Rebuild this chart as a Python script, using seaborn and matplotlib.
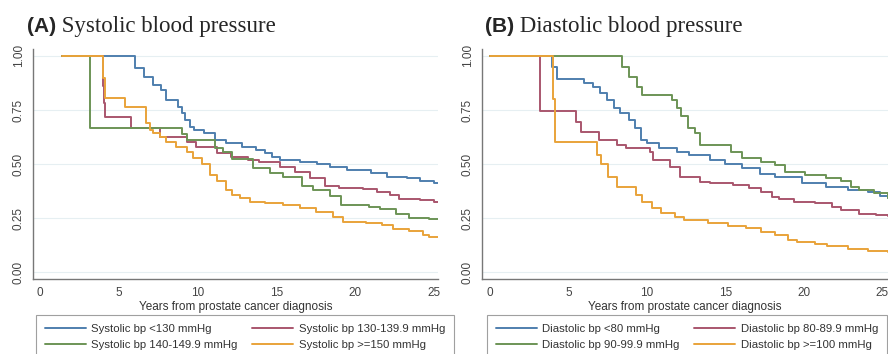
import matplotlib
matplotlib.use('Agg')
import matplotlib.pyplot as plt
import seaborn as sns
import pandas as pd
from matplotlib.lines import Line2D

# Kaplan-Meier style step data (years, survival)
sys_labels = ['Systolic bp <130 mmHg', 'Systolic bp 130-139.9 mmHg',
              'Systolic bp 140-149.9 mmHg', 'Systolic bp >=150 mmHg']
sys_lt130_t = [1.4, 6.0, 6.6, 7.2, 7.7, 8.0, 8.75, 9.0, 9.2, 9.5, 9.8, 10.4, 11.1, 11.8,
               12.8, 13.7, 14.3, 14.7, 15.2, 16.5, 17.6, 18.4, 19.5, 21.0, 22.0, 23.3,
               24.1, 25.0, 25.3]
sys_lt130_s = [1.0, 0.946, 0.904, 0.866, 0.843, 0.796, 0.765, 0.735, 0.704, 0.673, 0.657,
               0.642, 0.611, 0.596, 0.58, 0.565, 0.549, 0.534, 0.52, 0.511, 0.50, 0.488,
               0.47, 0.457, 0.44, 0.435, 0.42, 0.41, 0.41]
sys_130_t = [1.4, 4.0, 4.05, 4.15, 5.8, 7.6, 9.3, 9.9, 11.2, 12.1, 13.2, 13.9, 15.2, 16.2,
             17.1, 18.1, 19.0, 20.5, 21.4, 22.2, 22.8, 24.1, 25.0, 25.3]
sys_130_s = [1.0, 0.86, 0.78, 0.719, 0.666, 0.626, 0.60, 0.578, 0.549, 0.534, 0.518, 0.51,
             0.488, 0.465, 0.435, 0.398, 0.39, 0.383, 0.372, 0.358, 0.34, 0.335, 0.325, 0.325]
sys_140_t = [1.4, 3.16, 9.0, 9.3, 11.1, 11.6, 12.2, 13.5, 14.6, 15.4, 16.6, 17.3, 18.4,
             19.1, 20.9, 21.6, 22.6, 23.4, 24.7, 25.3]
sys_140_s = [1.0, 0.667, 0.637, 0.611, 0.574, 0.556, 0.525, 0.48, 0.46, 0.44, 0.40, 0.38,
             0.35, 0.31, 0.30, 0.29, 0.27, 0.25, 0.245, 0.245]
sys_150_t = [1.4, 4.0, 4.1, 5.4, 6.7, 6.75, 6.96, 7.17, 7.6, 8.0, 8.65, 9.3, 9.7, 10.3,
             10.8, 11.2, 11.8, 12.2, 12.7, 13.3, 14.3, 15.4, 16.5, 17.5, 18.6, 19.2, 20.7,
             21.7, 22.4, 23.4, 24.3, 24.7, 25.3]
sys_150_s = [1.0, 0.90, 0.804, 0.765, 0.72, 0.69, 0.657, 0.642, 0.627, 0.60, 0.58, 0.556,
             0.526, 0.50, 0.45, 0.42, 0.38, 0.356, 0.341, 0.326, 0.318, 0.31, 0.295, 0.28,
             0.256, 0.233, 0.228, 0.218, 0.198, 0.188, 0.172, 0.164, 0.164]

dia_labels = ['Diastolic bp <80 mmHg', 'Diastolic bp 80-89.9 mmHg',
              'Diastolic bp 90-99.9 mmHg', 'Diastolic bp >=100 mmHg']
dia_lt80_t = [0.0, 3.95, 4.3, 6.0, 6.6, 7.0, 7.45, 7.9, 8.3, 8.85, 9.25, 9.6, 10.0, 10.8,
              11.9, 12.7, 14.0, 15.0, 16.1, 17.2, 18.2, 19.9, 21.4, 22.8, 24.1, 24.9, 25.4]
dia_lt80_s = [1.0, 0.95, 0.893, 0.873, 0.858, 0.827, 0.796, 0.76, 0.735, 0.704, 0.666,
              0.611, 0.596, 0.573, 0.557, 0.542, 0.518, 0.50, 0.48, 0.455, 0.44, 0.41,
              0.395, 0.38, 0.372, 0.352, 0.345]
dia_80_t = [0.0, 3.2, 5.5, 5.8, 6.95, 8.1, 8.7, 10.2, 10.4, 11.5, 12.1, 13.4, 14.0, 15.5,
            16.5, 17.3, 18.0, 18.4, 19.4, 20.7, 21.8, 22.4, 23.5, 24.6, 25.4]
dia_80_s = [1.0, 0.745, 0.696, 0.65, 0.611, 0.588, 0.573, 0.557, 0.52, 0.488, 0.44, 0.418,
            0.41, 0.403, 0.388, 0.372, 0.349, 0.34, 0.326, 0.318, 0.302, 0.287, 0.271,
            0.264, 0.26]
dia_90_t = [0.0, 8.4, 8.85, 9.4, 9.7, 11.6, 11.9, 12.2, 12.6, 13.1, 13.4, 15.4, 16.1, 17.3,
            18.2, 18.8, 20.1, 21.4, 22.4, 23.0, 23.5, 24.5, 25.4]
dia_90_s = [1.0, 0.95, 0.904, 0.858, 0.82, 0.796, 0.76, 0.72, 0.666, 0.642, 0.588, 0.557,
            0.526, 0.511, 0.495, 0.465, 0.45, 0.434, 0.42, 0.395, 0.38, 0.364, 0.345]
dia_100_t = [0.0, 4.0, 4.15, 6.8, 7.1, 7.5, 8.1, 9.3, 9.7, 10.3, 10.9, 11.8, 12.4, 13.9,
             15.2, 16.3, 17.3, 18.2, 19.0, 19.6, 20.7, 21.5, 22.8, 24.1, 25.4]
dia_100_s = [1.0, 0.80, 0.603, 0.54, 0.50, 0.44, 0.395, 0.356, 0.326, 0.295, 0.272, 0.256,
             0.241, 0.228, 0.213, 0.202, 0.187, 0.172, 0.148, 0.14, 0.13, 0.12, 0.108,
             0.097, 0.095]

colors = ['#4f7fae', '#a9566e', '#6c9456', '#e9a33a']
yticks = [0.0, 0.25, 0.5, 0.75, 1.0]
xticks = [0, 5, 10, 15, 20, 25]


def to_frame(series, labels):
    rows = []
    for (t, s), lab in zip(series, labels):
        for ti, si in zip(t, s):
            rows.append({'years': ti, 'surv': si, 'group': lab})
    return pd.DataFrame(rows)


sys_df = to_frame([(sys_lt130_t, sys_lt130_s), (sys_130_t, sys_130_s),
                   (sys_140_t, sys_140_s), (sys_150_t, sys_150_s)], sys_labels)
dia_df = to_frame([(dia_lt80_t, dia_lt80_s), (dia_80_t, dia_80_s),
                   (dia_90_t, dia_90_s), (dia_100_t, dia_100_s)], dia_labels)

sns.set_style('white')
plt.rcParams['font.family'] = ['Liberation Sans', 'DejaVu Sans']

W, H = 888, 354
fig = plt.figure(figsize=(W / 100, H / 100), dpi=100)
ax_a = fig.add_axes([33 / W, 1 - 279 / H, (438 - 33) / W, 230 / H])
ax_b = fig.add_axes([482 / W, 1 - 279 / H, (888 - 482) / W, 230 / H])

panels = [
    (ax_a, sys_df, sys_labels, (-0.44, 25.25), '(A)', ' Systolic blood pressure', 27, 36),
    (ax_b, dia_df, dia_labels, (-0.51, 25.38), '(B)', ' Diastolic blood pressure', 485, 487),
]

for ax, df, labels, xlim, tag, title, title_x, leg_x in panels:
    for y in yticks:
        ax.axhline(y, color='#e6eff2', lw=0.8, zorder=0)
    sns.lineplot(data=df, x='years', y='surv', hue='group', hue_order=labels,
                 palette=colors, estimator=None, sort=False, drawstyle='steps-post',
                 linewidth=1.4, legend=False, ax=ax)
    ax.set_xlim(*xlim)
    ax.set_ylim(-0.032, 1.032)
    ax.set_xticks(xticks)
    ax.set_yticks(yticks)
    ax.set_yticklabels(['0.00', '0.25', '0.50', '0.75', '1.00'], rotation=90, va='center')
    ax.tick_params(axis='both', direction='out', length=4, width=0.8, color='#777777',
                   labelsize=8.5, labelcolor='#444444', pad=2)
    ax.set_xlabel('Years from prostate cancer diagnosis', fontsize=8.5, color='#333333',
                  labelpad=1)
    ax.set_ylabel('')
    for side in ['top', 'right']:
        ax.spines[side].set_visible(False)
    for side in ['left', 'bottom']:
        ax.spines[side].set_color('#777777')
        ax.spines[side].set_linewidth(1.0)

    # legend filled row by row, as in the original
    order = [0, 2, 1, 3]
    handles = [Line2D([], [], color=colors[i], lw=1.4) for i in order]
    leg = fig.legend(handles, [labels[i] for i in order], loc='upper left',
                     bbox_to_anchor=(leg_x / W, 1 - 315 / H), ncol=2, fontsize=8.2,
                     frameon=True, fancybox=False, edgecolor='#888888',
                     handlelength=3.6, handletextpad=0.5, columnspacing=1.3,
                     labelspacing=0.55, borderpad=0.75, borderaxespad=0)
    leg.get_frame().set_linewidth(0.8)
    for txt in leg.get_texts():
        txt.set_color('#333333')

    # panel title: bold sans tag followed by serif text
    y_base = 1 - 32 / H
    t1 = fig.text(title_x / W, y_base, tag, fontsize=15, fontweight='bold',
                  va='baseline', ha='left')
    renderer = fig.canvas.get_renderer()
    bb = t1.get_window_extent(renderer)
    fig.text(bb.x1 / W, y_base, title, fontsize=16.5, va='baseline', ha='left',
             family=['Liberation Serif', 'DejaVu Serif'])

fig.savefig('out.png', dpi=100)
